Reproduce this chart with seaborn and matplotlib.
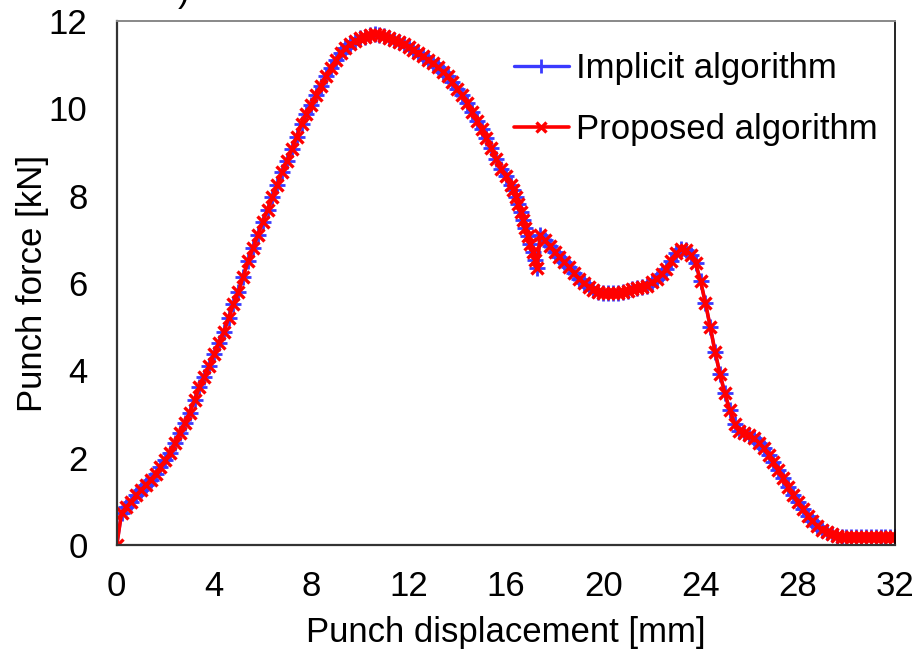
import numpy as np
import pandas as pd
import matplotlib
matplotlib.use("Agg")
import matplotlib.pyplot as plt
import seaborn as sns

# -- Data ----------------------------------------------------
disp_proposed = [
    0.0, 0.2, 0.4, 0.6, 0.8, 1.0, 1.2, 1.4, 1.6, 1.8,
    2.0, 2.2, 2.4, 2.6, 2.8, 3.0, 3.2, 3.4, 3.6, 3.8,
    4.0, 4.2, 4.4, 4.6, 4.8, 5.0, 5.2, 5.4, 5.6, 5.8,
    6.0, 6.2, 6.4, 6.6, 6.8, 7.0, 7.2, 7.4, 7.6, 7.8,
    8.0, 8.2, 8.4, 8.6, 8.8, 9.0, 9.2, 9.4, 9.6, 9.8,
    10.0, 10.2, 10.4, 10.6, 10.8, 11.0, 11.2, 11.4, 11.6, 11.8,
    12.0, 12.2, 12.4, 12.6, 12.8, 13.0, 13.2, 13.4, 13.6, 13.8,
    14.0, 14.2, 14.4, 14.6, 14.8, 15.0, 15.2, 15.4, 15.6, 15.8,
    16.0, 16.2, 16.3, 16.4, 16.5, 16.6, 16.7, 16.8, 16.9, 17.0,
    17.1, 17.2, 17.28, 17.41, 17.6, 17.8, 18.0, 18.2, 18.4, 18.6,
    18.8, 19.0, 19.2, 19.4, 19.6, 19.8, 20.0, 20.2, 20.4, 20.6,
    20.8, 21.0, 21.2, 21.4, 21.6, 21.8, 22.0, 22.2, 22.4, 22.6,
    22.8, 23.0, 23.2, 23.4, 23.6, 23.8, 24.0, 24.2, 24.4, 24.6,
    24.8, 25.0, 25.2, 25.4, 25.6, 25.8, 26.0, 26.2, 26.4, 26.6,
    26.8, 27.0, 27.2, 27.4, 27.6, 27.8, 28.0, 28.2, 28.4, 28.6,
    28.8, 29.0, 29.2, 29.4, 29.6, 29.8, 30.0, 30.2, 30.4, 30.6,
    30.8, 31.0, 31.2, 31.4, 31.6, 31.8, 32.0,
]
force_proposed = [
    0.0, 0.74, 0.88, 1.0, 1.15, 1.26, 1.38, 1.5, 1.63, 1.78,
    1.95, 2.12, 2.35, 2.58, 2.8, 3.03, 3.32, 3.62, 3.86, 4.1,
    4.37, 4.63, 4.88, 5.2, 5.52, 5.8, 6.15, 6.5, 6.8, 7.1,
    7.4, 7.68, 7.96, 8.25, 8.55, 8.8, 9.06, 9.35, 9.65, 9.88,
    10.08, 10.3, 10.52, 10.74, 10.92, 11.1, 11.26, 11.38, 11.47, 11.55,
    11.6, 11.64, 11.67, 11.69, 11.68, 11.66, 11.62, 11.57, 11.52, 11.46,
    11.41, 11.34, 11.26, 11.19, 11.11, 11.03, 10.94, 10.84, 10.73, 10.6,
    10.45, 10.3, 10.12, 9.92, 9.72, 9.52, 9.32, 9.08, 8.85, 8.62,
    8.45, 8.25, 8.13, 7.98, 7.8, 7.63, 7.45, 7.27, 7.08, 6.9,
    6.72, 6.52, 6.34, 7.1, 6.98, 6.85, 6.72, 6.6, 6.48, 6.37,
    6.23, 6.1, 6.0, 5.92, 5.85, 5.8, 5.78, 5.77, 5.77, 5.78,
    5.8, 5.83, 5.86, 5.88, 5.9, 5.94, 6.02, 6.1, 6.2, 6.33,
    6.5, 6.68, 6.78, 6.76, 6.65, 6.45, 6.05, 5.55, 5.0, 4.42,
    3.92, 3.48, 3.1, 2.78, 2.62, 2.57, 2.52, 2.45, 2.35, 2.23,
    2.07, 1.9, 1.72, 1.53, 1.33, 1.15, 0.98, 0.83, 0.68, 0.55,
    0.45, 0.36, 0.3, 0.25, 0.21, 0.19, 0.18, 0.18, 0.18, 0.18,
    0.18, 0.18, 0.18, 0.18, 0.18, 0.18, 0.18,
]
# the implicit run lies right under the proposed one in the picture
disp_implicit = list(disp_proposed)
force_implicit = list(force_proposed)

x_ticks = [0, 4, 8, 12, 16, 20, 24, 28, 32]
y_ticks = [0, 2, 4, 6, 8, 10, 12]

# -- Style ----------------------------------------------------
sns.set_theme(style="white")
plt.rcParams["font.family"] = ["Liberation Sans", "DejaVu Sans"]
plt.rcParams["text.color"] = "black"
plt.rcParams["axes.labelcolor"] = "black"

fig, ax = plt.subplots(figsize=(9.19, 6.53), dpi=100)
fig.subplots_adjust(left=0.127, right=0.974, bottom=0.165, top=0.968)

sns.lineplot(x=disp_implicit, y=force_implicit, ax=ax, sort=False,
             estimator=None, color="#3a3aff", linewidth=2.4,
             marker="+", markersize=12, markeredgewidth=2.0,
             markeredgecolor="#3a3aff", legend=False)
sns.lineplot(x=disp_proposed, y=force_proposed, ax=ax, sort=False,
             estimator=None, color="#ff0000", linewidth=2.6,
             marker="x", markersize=9, markeredgewidth=2.4,
             markeredgecolor="#ff0000", legend=False)

ax.set_xlim(0, 32)
ax.set_ylim(0, 12)
ax.set_xticks(x_ticks)
ax.set_yticks(y_ticks)
ax.tick_params(axis="both", direction="in", length=7, width=1.0,
               labelsize=25, colors="#222222", labelcolor="black")
ax.tick_params(axis="x", pad=18)
ax.tick_params(axis="y", pad=21)
ax.set_xlabel("Punch displacement [mm]", fontsize=25, labelpad=9)
ax.set_ylabel("Punch force [kN]", fontsize=25, labelpad=0)

for side in ["left", "bottom"]:
    ax.spines[side].set_color("#333333")
    ax.spines[side].set_linewidth(1.6)
ax.spines["top"].set_color("#888888")
ax.spines["top"].set_linewidth(1.4)
ax.spines["right"].set_color("black")
ax.spines["right"].set_linewidth(1.2)

lines = ax.get_lines()
ax.legend(lines[:2], ["Implicit algorithm", "Proposed algorithm"],
          loc="upper left", bbox_to_anchor=(0.51, 0.94), frameon=False,
          fontsize=25, handlelength=1.6, handletextpad=0.2,
          labelspacing=0.8, borderpad=0, borderaxespad=0,
          markerscale=0.8, labelcolor="black")

# clipped panel label at the very top of the figure
fig.text(0.2, 1.012, ")", fontsize=25, ha="center", va="center")

plt.savefig("out.png", dpi=100)
plt.close()
